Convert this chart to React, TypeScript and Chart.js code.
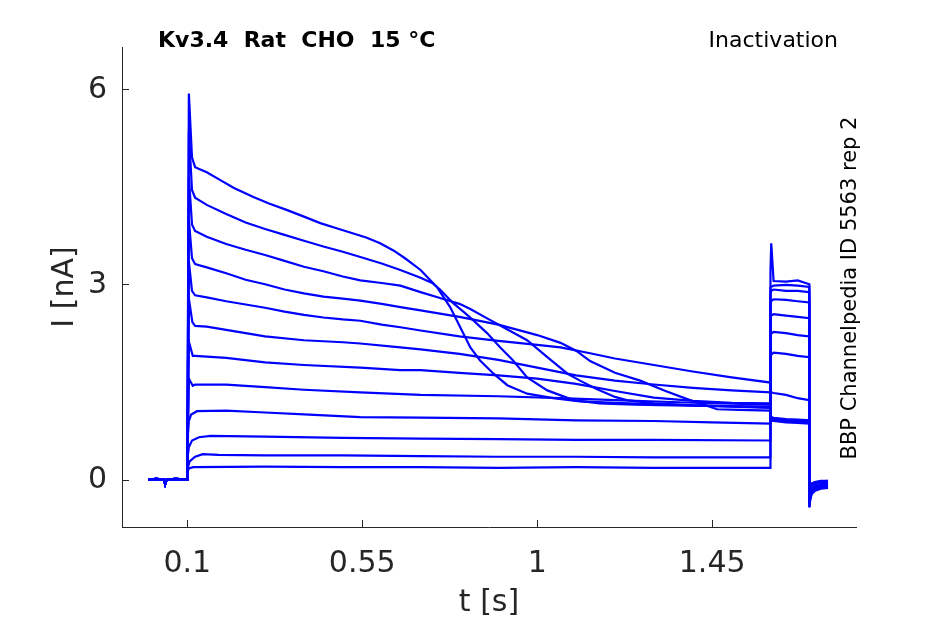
import { useEffect, useRef } from "react";
import { Chart, registerables } from "chart.js";
Chart.register(...registerables);

type Pt = [number, number];

// holding phase, common to every sweep (t in s, I in nA)
const holdPhase: Pt[] = [[0, 0], [0.02, 0.01], [0.04, 0], [0.043, -0.07], [0.047, 0], [0.07, 0.01], [0.1, 0]];

// conditioning pulse, largest sweep first
const prepulse01: Pt[] = [[0.104, 5.93], [0.112, 4.95], [0.12, 4.8], [0.15, 4.72], [0.185, 4.6], [0.22, 4.48], [0.27, 4.34], [0.31, 4.24], [0.357, 4.14], [0.4, 4.04], [0.442, 3.94], [0.49, 3.85], [0.527, 3.78], [0.56, 3.72], [0.596, 3.63], [0.63, 3.52], [0.66, 3.4], [0.7, 3.22], [0.743, 2.95], [0.776, 2.65], [0.802, 2.34], [0.828, 2.03], [0.853, 1.83], [0.887, 1.63], [0.923, 1.45], [0.974, 1.32], [1.041, 1.25], [1.11, 1.2], [1.2, 1.18], [1.3, 1.16], [1.4, 1.14], [1.5, 1.13], [1.6, 1.12]];
const prepulse02: Pt[] = [[0.104, 5.35], [0.112, 4.45], [0.12, 4.33], [0.15, 4.22], [0.2, 4.08], [0.25, 3.95], [0.3, 3.85], [0.35, 3.76], [0.4, 3.67], [0.45, 3.58], [0.5, 3.5], [0.545, 3.42], [0.6, 3.32], [0.648, 3.22], [0.7, 3.1], [0.73, 3.02], [0.75, 2.92], [0.784, 2.71], [0.81, 2.58], [0.835, 2.45], [0.871, 2.25], [0.905, 2.03], [0.938, 1.83], [0.974, 1.57], [1.026, 1.37], [1.093, 1.22], [1.16, 1.17], [1.25, 1.15], [1.35, 1.14], [1.45, 1.13], [1.6, 1.11]];
const prepulse03: Pt[] = [[0.104, 4.65], [0.112, 3.92], [0.12, 3.82], [0.15, 3.73], [0.2, 3.62], [0.25, 3.53], [0.3, 3.45], [0.35, 3.36], [0.4, 3.27], [0.45, 3.2], [0.5, 3.12], [0.545, 3.06], [0.6, 3.02], [0.648, 2.98], [0.7, 2.88], [0.75, 2.79], [0.8, 2.7], [0.828, 2.62], [0.87, 2.48], [0.913, 2.34], [0.974, 2.14], [1.026, 1.88], [1.059, 1.72], [1.077, 1.63], [1.11, 1.52], [1.15, 1.4], [1.2, 1.27], [1.23, 1.22], [1.3, 1.17], [1.4, 1.14], [1.5, 1.12], [1.6, 1.1]];
const prepulse04: Pt[] = [[0.104, 4.0], [0.112, 3.4], [0.12, 3.31], [0.15, 3.26], [0.2, 3.17], [0.25, 3.07], [0.3, 3.0], [0.35, 2.92], [0.4, 2.86], [0.45, 2.81], [0.5, 2.78], [0.545, 2.75], [0.6, 2.7], [0.648, 2.65], [0.7, 2.6], [0.8, 2.5], [0.9, 2.38], [1.0, 2.22], [1.06, 2.1], [1.1, 1.98], [1.136, 1.82], [1.2, 1.64], [1.265, 1.52], [1.33, 1.36], [1.393, 1.22], [1.463, 1.08], [1.52, 1.07], [1.6, 1.06]];
const prepulse05: Pt[] = [[0.104, 3.35], [0.112, 2.9], [0.12, 2.83], [0.15, 2.8], [0.2, 2.74], [0.25, 2.69], [0.3, 2.64], [0.35, 2.58], [0.4, 2.53], [0.45, 2.49], [0.5, 2.46], [0.545, 2.44], [0.6, 2.38], [0.648, 2.34], [0.7, 2.29], [0.8, 2.2], [0.9, 2.13], [1.0, 2.07], [1.06, 2.03], [1.136, 1.94], [1.2, 1.86], [1.3, 1.76], [1.4, 1.66], [1.5, 1.57], [1.6, 1.49]];
const prepulse06: Pt[] = [[0.104, 2.78], [0.113, 2.42], [0.12, 2.36], [0.15, 2.35], [0.2, 2.3], [0.25, 2.25], [0.3, 2.2], [0.4, 2.14], [0.5, 2.11], [0.545, 2.09], [0.648, 2.03], [0.7, 2.0], [0.8, 1.93], [0.9, 1.84], [1.0, 1.72], [1.1, 1.6], [1.2, 1.52], [1.3, 1.46], [1.4, 1.41], [1.5, 1.37], [1.6, 1.34]];
const prepulse07: Pt[] = [[0.104, 2.12], [0.114, 1.9], [0.12, 1.9], [0.2, 1.87], [0.3, 1.8], [0.4, 1.76], [0.545, 1.72], [0.648, 1.68], [0.7, 1.68], [0.8, 1.64], [0.9, 1.6], [1.0, 1.55], [1.1, 1.47], [1.2, 1.36], [1.3, 1.26], [1.4, 1.21], [1.5, 1.18], [1.6, 1.17]];
const prepulse08: Pt[] = [[0.104, 1.55], [0.114, 1.44], [0.12, 1.46], [0.2, 1.46], [0.3, 1.42], [0.4, 1.38], [0.545, 1.34], [0.7, 1.3], [0.9, 1.28], [1.06, 1.25], [1.2, 1.22], [1.4, 1.18], [1.6, 1.15]];
const prepulse09: Pt[] = [[0.1, 0.6], [0.104, 0.9], [0.11, 1.0], [0.125, 1.05], [0.2, 1.06], [0.3, 1.03], [0.4, 1.0], [0.545, 0.96], [0.7, 0.95], [0.9, 0.94], [1.1, 0.91], [1.3, 0.9], [1.45, 0.88], [1.6, 0.86]];
const prepulse10: Pt[] = [[0.1, 0.3], [0.104, 0.5], [0.112, 0.6], [0.13, 0.65], [0.16, 0.67], [0.3, 0.66], [0.5, 0.64], [0.7, 0.63], [0.9, 0.62], [1.1, 0.61], [1.3, 0.61], [1.6, 0.6]];
const prepulse11: Pt[] = [[0.1, 0.15], [0.106, 0.28], [0.12, 0.35], [0.14, 0.39], [0.18, 0.38], [0.3, 0.37], [0.5, 0.37], [0.7, 0.36], [0.9, 0.35], [1.1, 0.35], [1.3, 0.34], [1.6, 0.34]];
const prepulse12: Pt[] = [[0.1, 0.12], [0.104, 0.17], [0.115, 0.19], [0.3, 0.2], [0.5, 0.19], [0.7, 0.19], [0.9, 0.18], [1.1, 0.19], [1.3, 0.18], [1.6, 0.18]];

const prepulses = [prepulse01, prepulse02, prepulse03, prepulse04, prepulse05, prepulse06, prepulse07, prepulse08, prepulse09, prepulse10, prepulse11, prepulse12];

// test pulse, sampled at testTimes
const testTimes = [1.6, 1.602, 1.608, 1.64, 1.67, 1.7];
const testPulse: number[][] = [
  [0.88, 0.9, 0.9, 0.88, 0.87, 0.86],
  [0.92, 0.94, 0.93, 0.91, 0.9, 0.9],
  [0.9, 0.92, 0.91, 0.9, 0.89, 0.88],
  [0.95, 0.96, 0.95, 0.93, 0.92, 0.91],
  [1.3, 1.34, 1.33, 1.3, 1.25, 1.22],
  [1.88, 1.92, 1.95, 1.93, 1.9, 1.88],
  [2.2, 2.24, 2.27, 2.25, 2.22, 2.2],
  [2.48, 2.52, 2.54, 2.52, 2.5, 2.48],
  [2.7, 2.74, 2.77, 2.76, 2.74, 2.72],
  [2.88, 2.9, 2.92, 2.9, 2.9, 2.88],
  [2.95, 2.96, 2.98, 2.99, 2.98, 2.96],
  [3.2, 3.63, 3.05, 3.04, 3.06, 3.0],
];

// tail currents after the test pulse
const tailTimes = [1.7, 1.702, 1.706, 1.715, 1.73, 1.748];
const tails: number[][] = [
  [-0.16, -0.1, -0.06, -0.04, -0.02, -0.02],
  [-0.18, -0.12, -0.08, -0.05, -0.03, -0.03],
  [-0.17, -0.11, -0.07, -0.04, -0.03, -0.02],
  [-0.18, -0.12, -0.08, -0.05, -0.03, -0.03],
  [-0.22, -0.15, -0.1, -0.07, -0.05, -0.05],
  [-0.28, -0.2, -0.14, -0.1, -0.08, -0.07],
  [-0.32, -0.23, -0.16, -0.12, -0.09, -0.08],
  [-0.35, -0.25, -0.17, -0.13, -0.1, -0.09],
  [-0.38, -0.27, -0.19, -0.14, -0.11, -0.1],
  [-0.4, -0.29, -0.2, -0.15, -0.12, -0.11],
  [-0.42, -0.3, -0.21, -0.16, -0.13, -0.12],
  [-0.43, -0.32, -0.22, -0.17, -0.14, -0.13],
];

const xTicks = [0.1, 0.55, 1, 1.45];
const yTicks = [0, 3, 6];
const titleLeft = "Kv3.4  Rat  CHO  15 °C";
const titleRight = "Inactivation";
const sideLabel = "BBP Channelpedia ID 5563 rep 2";

const INK = "#262626";

// inward tick marks, tick labels and the free-standing texts
const decorations = {
  id: "decorations",
  afterDraw(chart: any) {
    const { ctx, chartArea, scales } = chart;
    ctx.save();
    ctx.strokeStyle = INK;
    ctx.lineWidth = 1;
    ctx.beginPath();
    for (const v of xTicks) {
      const px = Math.round(scales.x.getPixelForValue(v)) + 0.5;
      ctx.moveTo(px, chartArea.bottom);
      ctx.lineTo(px, chartArea.bottom - 7);
    }
    for (const v of yTicks) {
      const py = Math.round(scales.y.getPixelForValue(v)) + 0.5;
      ctx.moveTo(chartArea.left, py);
      ctx.lineTo(chartArea.left + 7, py);
    }
    ctx.stroke();

    ctx.fillStyle = INK;
    ctx.font = "30px 'DejaVu Sans'";
    ctx.textAlign = "center";
    ctx.textBaseline = "alphabetic";
    for (const v of xTicks) ctx.fillText(String(v), scales.x.getPixelForValue(v), chartArea.bottom + 45);
    ctx.textAlign = "right";
    ctx.textBaseline = "middle";
    for (const v of yTicks) ctx.fillText(String(v), chartArea.left - 15, scales.y.getPixelForValue(v) + 1);

    ctx.fillStyle = "#000";
    ctx.textBaseline = "alphabetic";
    ctx.font = "bold 22px 'DejaVu Sans'";
    ctx.textAlign = "left";
    ctx.fillText(titleLeft, 158, 47);
    ctx.font = "22px 'DejaVu Sans'";
    ctx.textAlign = "right";
    ctx.fillText(titleRight, 838, 47);
    ctx.translate(856, 288);
    ctx.rotate(-Math.PI / 2);
    ctx.textAlign = "center";
    ctx.font = "21px 'DejaVu Sans'";
    ctx.fillText(sideLabel, 0, 0);
    ctx.restore();
  },
};

function sweep(i: number) {
  const pts: Pt[] = [...holdPhase, ...prepulses[i]];
  testTimes.forEach((t, k) => pts.push([t, testPulse[i][k]]));
  tailTimes.forEach((t, k) => pts.push([t, tails[i][k]]));
  return pts.map(([x, y]) => ({ x, y }));
}

export default function App() {
  const ref = useRef<HTMLCanvasElement | null>(null);

  useEffect(() => {
    if (!ref.current) return;
    Chart.defaults.font.family = "'DejaVu Sans'";
    const chart = new Chart(ref.current, {
      type: "line",
      data: {
        datasets: prepulses.map((_, i) => ({
          data: sweep(i),
          borderColor: "#0000ff",
          borderWidth: 2.2,
          pointRadius: 0,
          fill: false,
          tension: 0,
        })),
      },
      options: {
        animation: false,
        responsive: false,
        events: [],
        layout: { padding: { left: 0, top: 47, right: 89, bottom: 0 } },
        plugins: { legend: { display: false }, tooltip: { enabled: false } },
        scales: {
          x: {
            type: "linear",
            min: -0.068,
            max: 1.82,
            grid: { display: false },
            border: { display: true, color: INK, width: 1 },
            afterBuildTicks: (s: any) => { s.ticks = xTicks.map((value) => ({ value })); },
            afterFit: (s: any) => { s.height = 97; },
            ticks: { display: false },
            title: { display: true, text: "t [s]", color: INK, font: { size: 30 }, padding: { top: 0, bottom: 3 } },
          },
          y: {
            type: "linear",
            min: -0.729,
            max: 6.646,
            grid: { display: false },
            border: { display: true, color: INK, width: 1 },
            afterBuildTicks: (s: any) => { s.ticks = yTicks.map((value) => ({ value })); },
            afterFit: (s: any) => { s.width = 122; },
            ticks: { display: false },
            title: { display: true, text: "I [nA]", color: INK, font: { size: 30 }, padding: { top: 47, bottom: 0 } },
          },
        },
      },
      plugins: [decorations],
    });
    return () => chart.destroy();
  }, []);

  return (
    <div style={{ position: "absolute", left: 0, top: 0, width: 945, height: 624, background: "#fff" }}>
      <canvas ref={ref} width={945} height={624} />
    </div>
  );
}
